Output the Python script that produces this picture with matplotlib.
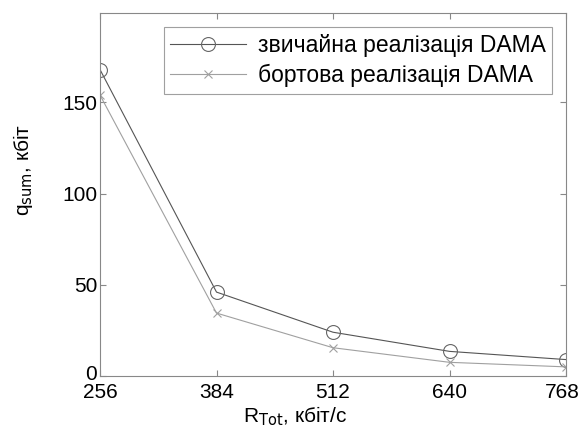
import matplotlib
matplotlib.use("Agg")
import matplotlib.pyplot as plt
from matplotlib.transforms import ScaledTranslation

plt.rcParams['font.family'] = ['Liberation Sans', 'DejaVu Sans']

x = [256, 384, 512, 640, 768]
conventional = [168, 46, 24, 13.5, 9]
onboard = [154, 34.5, 15.5, 7.5, 5]
xticks = [256, 384, 512, 640, 768]
yticks = [0, 50, 100, 150]
labels = ['звичайна реалізація DAMA', 'бортова реалізація DAMA']

fig = plt.figure(figsize=(5.8, 4.34), dpi=100)
ax = fig.add_axes([100/580, 1-376/434, 466/580, 363/434])
ax.plot(x, conventional, color='#555555', lw=0.8, marker='o', ms=10,
        mfc='none', mec='#666666', mew=0.8, label=labels[0])
ax.plot(x, onboard, color='#a0a0a0', lw=0.8, marker='x', ms=6,
        mec='#a0a0a0', mew=0.8, label=labels[1])
ax.set_xlim(256, 768)
ax.set_ylim(0, 199)
ax.set_xticks(xticks)
ax.set_yticks(yticks)
ax.tick_params(labelsize=15, direction='in', length=4, color='#888888', top=True, right=True)
ax.tick_params(axis='x', pad=5)
ax.tick_params(axis='y', pad=2)
for s in ax.spines.values():
    s.set_color('#888888')
    s.set_linewidth(0.8)
ax.set_xlabel(r'R$_{\mathrm{Tot}}$, кбіт/с', fontsize=15)
ax.xaxis.set_label_coords(0.418, -0.078)
ax.set_ylabel(r'q$_{\mathrm{sum}}$, кбіт', fontsize=15)
ax.yaxis.set_label_coords(-0.139, 0.567)
leg = ax.legend(loc='upper right', fontsize=16.5, frameon=True, fancybox=False,
                edgecolor='#888888', borderpad=0.3, handlelength=3.3, handletextpad=0.5,
                labelspacing=0.3, borderaxespad=0.6)
leg.get_frame().set_linewidth(0.8)

fig.canvas.draw()
last = ax.get_xticklabels()[-1]
last.set_transform(last.get_transform() + ScaledTranslation(-4/100, 0, fig.dpi_scale_trans))
zero = ax.get_yticklabels()[0]
zero.set_transform(zero.get_transform() + ScaledTranslation(0, 3/100, fig.dpi_scale_trans))
fig.savefig('out.png', dpi=100)
